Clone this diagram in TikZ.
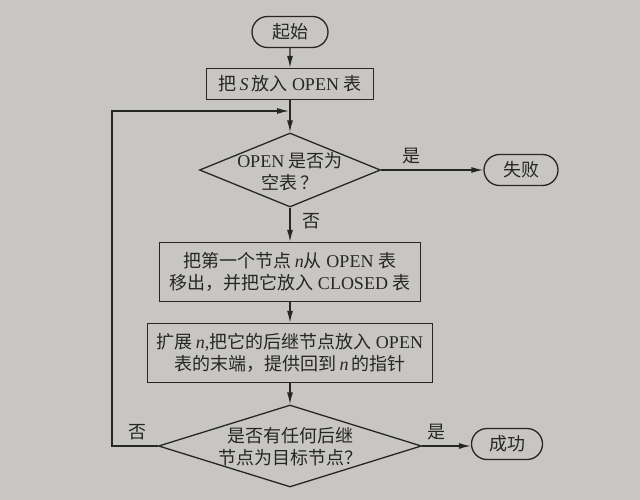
\documentclass[tikz,border=0pt]{standalone}
\usepackage{fontspec}
\setmainfont{Liberation Serif}
\newfontfamily\cjk{Noto Sans CJK SC}
\newcommand\zhs[1]{{\cjk #1}}
\usetikzlibrary{shapes.geometric,shapes.misc,arrows.meta}
\definecolor{paper}{RGB}{199,198,194}
\definecolor{ink}{RGB}{38,38,38}
\begin{document}
\begin{tikzpicture}[x=1pt,y=-1pt,
  every node/.style={text=ink,font=\fontsize{18}{22}\selectfont},
  line/.style={draw=ink,line width=1.3pt},
  arr/.style={line,-{Latex[length=12pt,width=6pt]}},
  term/.style={rounded rectangle,line,inner sep=0pt,minimum height=31pt},
  proc/.style={rectangle,line,inner sep=0pt,align=center},
  dec/.style={diamond,line,inner sep=0pt},
  lbl/.style={inner sep=0pt}]
\fill[paper] (0,0) rectangle (640,500);
\useasboundingbox (0,0) rectangle (640,500);
\node[term,minimum width=76pt] (start) at (290,32) {\zhs{起始}};
\node[proc,minimum width=167pt,minimum height=31pt] (b1) at (290,84) {\zhs{把}\,\textit{S}\,\zhs{放入} OPEN \zhs{表}};
\node[dec,minimum width=181pt,minimum height=74pt] (d1) at (290,170) {};
\node[lbl,align=center] (d1t) at (290,172) {OPEN \zhs{是否为}\\\zhs{空表}\,\zhs{？}};
\node[term,minimum width=74pt] (fail) at (521,170) {\zhs{失败}};
\node[proc,minimum width=261pt,minimum height=59pt] (b3) at (290,272) {\zhs{把第一个节点}\,\textit{n}\zhs{从} OPEN \zhs{表}\\\zhs{移出，并把它放入} CLOSED \zhs{表}};
\node[proc,minimum width=285pt,minimum height=59pt] (b4) at (290,353) {\zhs{扩展}\,\textit{n},\zhs{把它的后继节点放入} OPEN\\\zhs{表的末端，提供回到}\,\textit{n}\,\zhs{的指针}};
\node[dec,minimum width=263pt,minimum height=82pt] (d2) at (290,446) {};
\node[lbl,align=center] (d2t) at (290,447) {\zhs{是否有任何后继}\\\zhs{节点为目标节点？}};
\node[term,minimum width=71pt] (succ) at (507,444) {\zhs{成功}};
\coordinate (j) at (290,111);
\coordinate (lb) at (112,446);
\coordinate (lt) at (112,111);
\draw[arr] (start) -- (b1);
\draw[line] (b1) -- (j);
\draw[arr] (j) -- (d1.north);
\draw[arr] (d1.east) -- node[lbl,pos=0.3,above=5pt] (yes1) {\zhs{是}} (fail.west);
\draw[arr] (d1.south) -- node[lbl,pos=0.4,right=12pt] (no1) {\zhs{否}} (b3.north);
\draw[arr] (b3) -- (b4);
\draw[arr] (b4) -- (d2.north);
\draw[arr] (d2.east) -- node[lbl,pos=0.3,above=5pt] (yes2) {\zhs{是}} (d2.east -| succ.west);
\draw[arr] (d2.west) -- node[lbl,pos=0.45,above=5pt] (no2) {\zhs{否}} (lb) -- (lt) -- ([xshift=-1pt]j);
\end{tikzpicture}
\end{document}
